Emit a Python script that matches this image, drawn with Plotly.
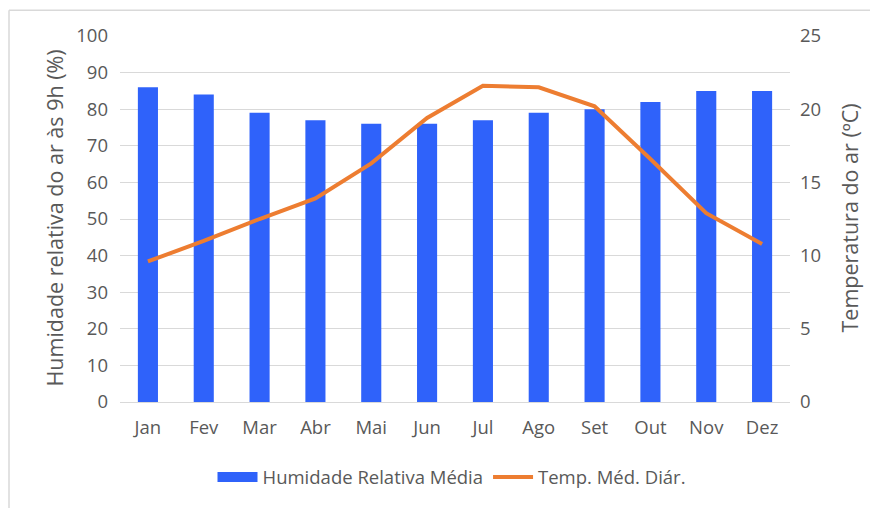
import plotly.graph_objects as go

meses = ["Jan", "Fev", "Mar", "Abr", "Mai", "Jun", "Jul", "Ago", "Set", "Out", "Nov", "Dez"]
humidade = [86, 84, 79, 77, 76, 76, 77, 79, 80, 82, 85, 85]
temperatura = [9.6, 11.0, 12.5, 13.9, 16.3, 19.4, 21.6, 21.5, 20.2, 16.6, 12.9, 10.8]

FONT = "Open Sans, sans-serif"
GREY = "#595959"
BLUE = "#2F62FA"
ORANGE = "#ED7D31"

fig = go.Figure()
fig.add_trace(go.Bar(x=meses, y=humidade, name="Humidade Relativa Média",
                     marker=dict(color=BLUE, line=dict(width=0)), width=0.36, yaxis="y",
                     showlegend=False))
fig.add_trace(go.Scatter(x=[None], y=[None], name="Humidade Relativa Média", mode="lines",
                         line=dict(color=BLUE, width=17), yaxis="y", showlegend=True))
fig.add_trace(go.Scatter(x=meses, y=temperatura, name="Temp. Méd. Diár.", mode="lines",
                         line=dict(color=ORANGE, width=4), yaxis="y2"))

OFF = 8  # page body margin
W, H = 878 - OFF, 508 - OFF
L, T = 120 - OFF, 36 - OFF
R, B = 878 - 790, 508 - 405
pw, ph = W - L - R, H - T - B

def px(x):
    return (x - OFF - L) / pw

def py(y):
    return (H - B - (y - OFF)) / ph

TICK = 18.5

fig.update_layout(
    width=W, height=H,
    margin=dict(l=L, r=R, t=T, b=B),
    paper_bgcolor="white", plot_bgcolor="white",
    font=dict(family=FONT, color=GREY, size=TICK),
    showlegend=True,
    legend=dict(orientation="h", x=px(452), xanchor="center", y=py(481), yanchor="middle",
                font=dict(size=18.5, color=GREY), traceorder="normal", itemwidth=40),
    xaxis=dict(showgrid=False, ticks="", showline=True, linecolor="#d9d9d9", linewidth=1,
               tickfont=dict(size=TICK, color=GREY), ticklabelstandoff=9),
    yaxis=dict(range=[0, 100], dtick=10, showgrid=True, gridcolor="#d9d9d9", gridwidth=1,
               zeroline=False, ticks="", tickfont=dict(size=TICK, color=GREY), ticklabelstandoff=11),
    yaxis2=dict(range=[0, 25], dtick=5, overlaying="y", side="right", showgrid=False,
                zeroline=False, ticks="", tickfont=dict(size=TICK, color=GREY), ticklabelstandoff=9),
    annotations=[
        dict(text="Humidade relativa do ar às 9h (%)", textangle=-90, xref="paper", yref="paper",
             x=px(55), y=py(220), xanchor="center", yanchor="middle", showarrow=False,
             font=dict(size=21.5, color=GREY, family=FONT)),
        dict(text="Temperatura do ar (ºC)", textangle=-90, xref="paper", yref="paper",
             x=px(850), y=py(220), xanchor="center", yanchor="middle", showarrow=False,
             font=dict(size=21.5, color=GREY, family=FONT)),
    ],
    shapes=[
        dict(type="line", xref="paper", yref="paper", x0=px(9), x1=px(900), y0=py(10), y1=py(10),
             line=dict(color="#d9d9d9", width=1.5)),
        dict(type="line", xref="paper", yref="paper", x0=px(9), x1=px(9), y0=py(10), y1=py(520),
             line=dict(color="#d9d9d9", width=1.5)),
    ],
)

fig.write_html("out.html")
